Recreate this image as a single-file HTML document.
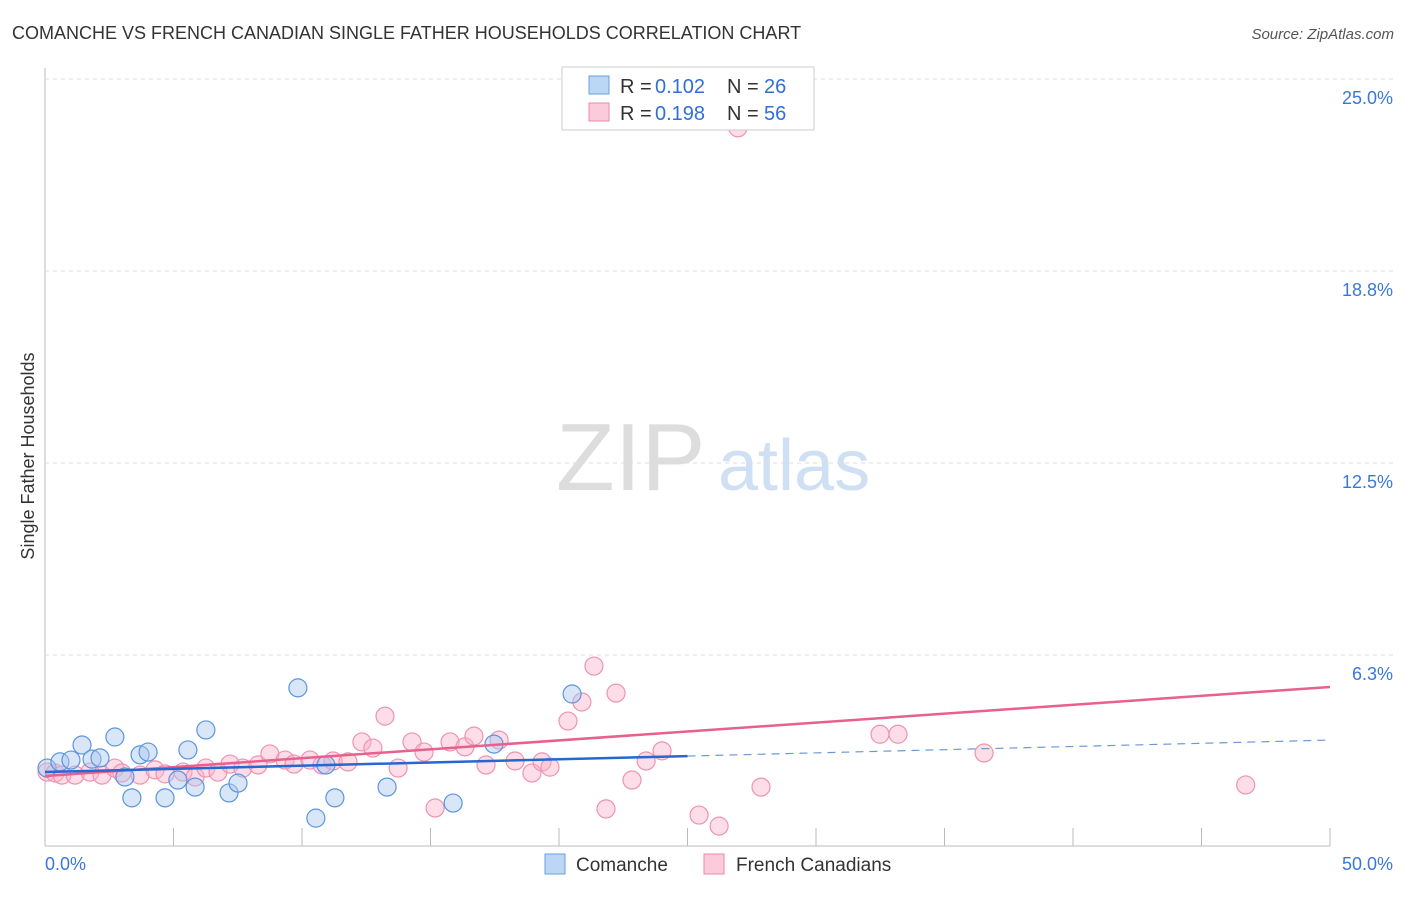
<!DOCTYPE html>
<html><head><meta charset="utf-8"><style>
body{margin:0;background:#fff;font-family:"Liberation Sans",sans-serif;}
svg text{font-family:"Liberation Sans",sans-serif;}
</style></head><body>
<svg id="c" width="1406" height="892">
<text x="12" y="39" font-size="18" fill="#333">COMANCHE VS FRENCH CANADIAN SINGLE FATHER HOUSEHOLDS CORRELATION CHART</text>
<text x="1394" y="39" font-size="15" fill="#555" text-anchor="end" font-style="italic">Source: ZipAtlas.com</text>
<text x="556" y="490" font-size="96" fill="#ddd" font-family="Liberation Serif">ZIP</text>
<text x="718" y="490" font-size="72" fill="#cfe0f4">atlas</text>
<text transform="translate(34,456) rotate(-90)" font-size="18" fill="#333" text-anchor="middle">Single Father Households</text>
<g id="grid"></g><g id="marks"></g>
<g>
<rect x="562" y="67" width="252" height="63" fill="#fff" stroke="#ccc"/>
<rect x="589" y="76" width="20" height="18" fill="#bcd6f5" stroke="#6a9fe0"/>
<rect x="589" y="103" width="20" height="18" fill="#fbcadb" stroke="#ee8aab"/>
<text x="620" y="93" font-size="20" fill="#333">R =</text><text x="655" y="93" font-size="20" fill="#2f6fd6">0.102</text>
<text x="727" y="93" font-size="20" fill="#333">N =</text><text x="764" y="93" font-size="20" fill="#2f6fd6">26</text>
<text x="620" y="120" font-size="20" fill="#333">R =</text><text x="655" y="120" font-size="20" fill="#2f6fd6">0.198</text>
<text x="727" y="120" font-size="20" fill="#333">N =</text><text x="764" y="120" font-size="20" fill="#2f6fd6">56</text>
</g>
<g>
<rect x="545" y="854" width="20" height="20" fill="#bcd6f5" stroke="#6a9fe0"/>
<text x="576" y="871" font-size="19" fill="#333">Comanche</text>
<rect x="704" y="854" width="20" height="20" fill="#fbcadb" stroke="#ee8aab"/>
<text x="736" y="871" font-size="19" fill="#333">French Canadians</text>
</g>
</svg>
<script>
const yTicks=[6.25,12.5,18.75,25];
const yTickLabels=["6.3%","12.5%","18.8%","25.0%"];
const xTickLabels=["0.0%","50.0%"];
const blueX=[0.08,0.58,1.01,1.44,1.83,2.14,2.72,3.11,3.38,3.70,4.01,4.67,5.17,5.56,5.84,6.26,7.16,7.51,9.84,10.54,10.93,11.28,13.31,15.88,17.47,20.51];
const blueY=[2.57,2.77,2.83,3.32,2.86,2.90,3.58,2.28,1.60,3.00,3.09,1.60,2.18,3.16,1.95,3.81,1.76,2.08,5.18,0.94,2.67,1.60,1.95,1.43,3.35,4.98];
const pinkX=[0.08,0.39,0.66,1.17,1.75,2.22,2.72,2.99,3.70,4.28,4.67,5.37,5.84,6.26,6.73,7.20,7.70,8.29,8.75,9.34,9.69,10.31,10.78,11.21,11.79,12.33,12.76,13.23,13.74,14.28,14.75,15.18,15.76,16.34,16.69,17.16,17.67,18.29,18.95,19.34,19.65,20.35,20.89,21.36,21.83,22.22,22.84,23.39,24.01,25.45,26.23,26.96,27.86,32.49,33.19,36.54,46.72];
const pinkY=[2.44,2.41,2.34,2.34,2.44,2.34,2.57,2.41,2.34,2.51,2.38,2.44,2.28,2.57,2.44,2.70,2.57,2.67,3.03,2.83,2.70,2.83,2.67,2.80,2.77,3.42,3.22,4.26,2.57,3.42,3.09,1.27,3.42,3.26,3.61,2.67,3.48,2.80,2.41,2.77,2.60,4.10,4.72,5.89,1.24,5.01,2.18,2.80,3.13,1.04,0.68,23.41,1.95,3.67,3.67,3.06,2.02];
// trend lines [intercept, slope]
const pinkTrend=[2.31,0.058];
const blueTrend=[2.44,0.0208];
const blueSolidEnd=25;
const X0=45,X1=1330,Y0=847;
const sx=v=>X0+(v/50)*(X1-X0);
const sy=v=>Y0-(v/25)*768;
const NS="http://www.w3.org/2000/svg";
function mk(t,a,p){const e=document.createElementNS(NS,t);for(const k in a)e.setAttribute(k,a[k]);p.appendChild(e);return e;}
const g=document.getElementById('grid'),m=document.getElementById('marks');
mk('line',{x1:45,y1:68,x2:45,y2:846,stroke:'#bbb'},g);
mk('line',{x1:45,y1:846,x2:1330,y2:846,stroke:'#bbb'},g);
for(let i=1;i<=10;i++){const x=sx(i*5);const l=mk('line',{x1:x,y1:828,x2:x,y2:846,stroke:'#bbb'},g);

}
yTicks.forEach((v,i)=>{const l=mk('line',{x1:45,y1:sy(v),x2:1394,y2:sy(v),stroke:'#ddd','stroke-dasharray':'4,4'},g);


const t=mk('text',{x:1393,y:sy(v)+25,'font-size':18,fill:'#3a78d8','text-anchor':'end'},g);t.textContent=yTickLabels[i];

});
xTickLabels.forEach((s,i)=>{const t=mk('text',{x:i?1393:45,y:870,'font-size':18,fill:'#3a78d8','text-anchor':i?'end':'start'},g);t.textContent=s;

});
pinkX.forEach((x,i)=>{const c=mk('circle',{cx:sx(x),cy:sy(pinkY[i]),r:9,fill:'rgba(248,180,203,0.45)',stroke:'#ee93b2','stroke-width':1.2},m);

});
blueX.forEach((x,i)=>{const c=mk('circle',{cx:sx(x),cy:sy(blueY[i]),r:9,fill:'rgba(170,200,240,0.45)',stroke:'#5b95e0','stroke-width':1.2},m);

});
const [pa,pb]=pinkTrend;
const pl=mk('line',{x1:sx(0),y1:sy(pa),x2:sx(50),y2:sy(pa+pb*50),stroke:'#e8608e','stroke-width':2.5},m);


const [ba,bb]=blueTrend;const bmax=blueSolidEnd;
const bl=mk('line',{x1:sx(0),y1:sy(ba),x2:sx(bmax),y2:sy(ba+bb*bmax),stroke:'#2468d0','stroke-width':2.5},m);


const bd=mk('line',{x1:sx(bmax),y1:sy(ba+bb*bmax),x2:sx(50),y2:sy(ba+bb*50),stroke:'#6a9ad8','stroke-width':1.2,'stroke-dasharray':'8,6'},m);


</script>
</body></html>
